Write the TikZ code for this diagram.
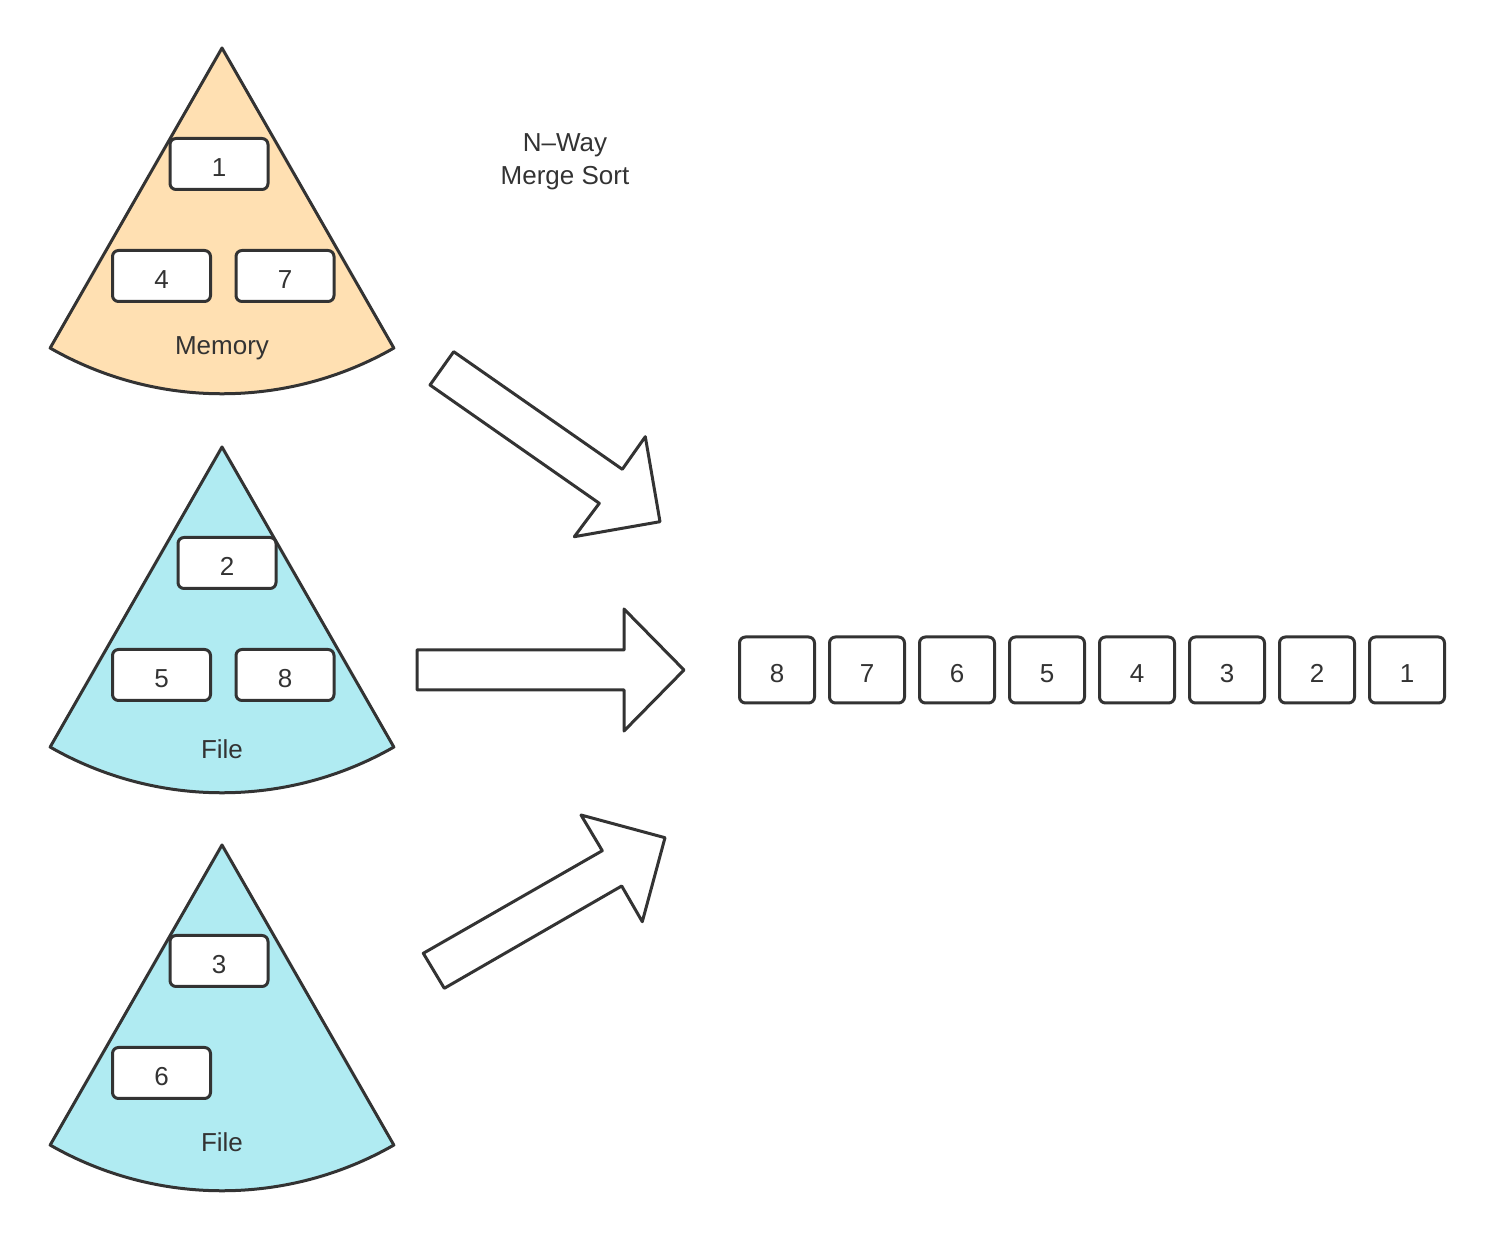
\documentclass[tikz,border=0pt]{standalone}
\usepackage{fontspec}
\setmainfont{Liberation Sans}
\begin{document}
\begin{tikzpicture}[x=0.5pt,y=-0.5pt,line join=round,
  ink/.style={draw=strokec,line width=1.5pt},
  item/.style={ink,fill=white,rounded corners=3pt,minimum width=49pt,minimum height=25.5pt,inner sep=0pt,text=strokec,font=\fontsize{13}{15}\selectfont,text height=12.2pt,text depth=0pt},
  rowitem/.style={item,minimum width=37.5pt,minimum height=33pt},
  lbl/.style={text=strokec,font=\fontsize{13}{15}\selectfont,inner sep=0pt},
  bigarrow/.style={ink,fill=white}]
\definecolor{strokec}{HTML}{333333}
\definecolor{memfill}{HTML}{FFE0B2}
\definecolor{filefill}{HTML}{B0EBF2}
\useasboundingbox (0,0) rectangle (1496,1240);

% sectors
\foreach \cy/\col in {48/memfill,447/filefill,845/filefill}{
  \path[ink,fill=\col] (222,\cy) -- ++(60.2:345.8) arc[start angle=60.2,end angle=119.8,radius=345.8] -- cycle;
}

% top (memory)
\node[item] (m1) at (219,164) {1};
\node[item] (m4) at (161.5,276) {4};
\node[item] (m7) at (285,276) {7};
\node[lbl] (memlbl) at (222,348) {Memory};

% middle file
\node[item] (f2) at (227,563) {2};
\node[item] (f5) at (161.5,675) {5};
\node[item] (f8) at (285,675) {8};
\node[lbl] (f1lbl) at (222,749) {File};

% bottom file
\node[item] (g3) at (219,961) {3};
\node[item] (g6) at (161.5,1073) {6};
\node[lbl] (f2lbl) at (222,1142) {File};

% title
\node[lbl,align=center] (title) at (565,162) {N\textendash Way\\[1.5pt]Merge Sort};

% arrows
\path[bigarrow] (453.7,351.7) -- (622.3,469.3) -- (645.3,436.7) -- (660,521.7) -- (574.3,536.7) -- (599.3,503.3) -- (430,385) -- cycle;
\path[bigarrow] (417,650) -- (624,650) -- (624,609) -- (684,670) -- (624,731) -- (624,690) -- (417,690) -- cycle;
\path[bigarrow] (423.3,953.3) -- (602.3,850.7) -- (581,815) -- (665,837.7) -- (642.3,921.7) -- (621.7,886) -- (444.3,988.3) -- cycle;

% result row
\foreach \v [count=\i from 0] in {8,7,6,5,4,3,2,1}{
  \node[rowitem] (r\v) at (777+90*\i,670) {\v};
}
\end{tikzpicture}
\end{document}
